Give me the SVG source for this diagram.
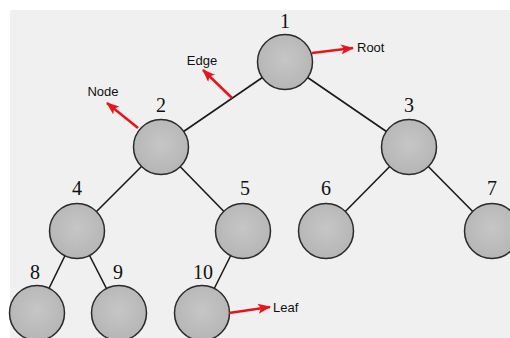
<svg xmlns="http://www.w3.org/2000/svg" width="510" height="338" viewBox="0 0 510 338">
<defs>
<radialGradient id="g" cx="50%" cy="45%" r="60%">
<stop offset="0" stop-color="#c6c6c6"/>
<stop offset="1" stop-color="#b4b4b4"/>
</radialGradient>
<marker id="ah" markerWidth="13" markerHeight="10" refX="12" refY="5" orient="auto" markerUnits="userSpaceOnUse">
<path d="M0,0 L13,5 L0,10 L3,5 Z" fill="#e8141a"/>
</marker>
<style>
.n{fill:url(#g);stroke:#2a2a2a;stroke-width:1.5}
.e{stroke:#1a1a1a;stroke-width:1.6;fill:none}
.a{stroke:#e8141a;stroke-width:2.5;fill:none;marker-end:url(#ah)}
.num{font-family:"Liberation Serif",serif;font-size:20px;fill:#111;text-anchor:middle}
.lbl{font-family:"Liberation Sans",sans-serif;font-size:13px;fill:#111}
</style>
</defs>
<rect x="0" y="0" width="510" height="338" fill="#ffffff"/>
<rect x="10" y="10" width="500" height="328" fill="#f0f0f0"/>
<g id="connectors">
<line class="e" x1="285" y1="62" x2="161" y2="147"/>
<line class="e" x1="285" y1="62" x2="409" y2="147"/>
<line class="e" x1="161" y1="147" x2="77" y2="231"/>
<line class="e" x1="161" y1="147" x2="243" y2="231"/>
<line class="e" x1="409" y1="147" x2="326" y2="231"/>
<line class="e" x1="409" y1="147" x2="492" y2="231"/>
<line class="e" x1="77" y1="231" x2="37" y2="313"/>
<line class="e" x1="77" y1="231" x2="119" y2="313"/>
<line class="e" x1="243" y1="231" x2="202" y2="313"/>
</g>
<g id="node1"><circle class="n" cx="285" cy="62" r="27.5"/><text class="num" x="285" y="28">1</text></g>
<g id="node2"><circle class="n" cx="161" cy="147" r="27.5"/><text class="num" x="161" y="112">2</text></g>
<g id="node3"><circle class="n" cx="409" cy="147" r="27.5"/><text class="num" x="409" y="112">3</text></g>
<g id="node4"><circle class="n" cx="77" cy="231" r="27.5"/><text class="num" x="77" y="195">4</text></g>
<g id="node5"><circle class="n" cx="243" cy="231" r="27.5"/><text class="num" x="245" y="195">5</text></g>
<g id="node6"><circle class="n" cx="326" cy="231" r="27.5"/><text class="num" x="326" y="195">6</text></g>
<g id="node7"><circle class="n" cx="492" cy="231" r="27.5"/><text class="num" x="492" y="195">7</text></g>
<g id="node8"><circle class="n" cx="37" cy="313" r="27.5"/><text class="num" x="35" y="279">8</text></g>
<g id="node9"><circle class="n" cx="119" cy="313" r="27.5"/><text class="num" x="118" y="279">9</text></g>
<g id="node10"><circle class="n" cx="202" cy="313" r="27.5"/><text class="num" x="203" y="279">10</text></g>
<g id="annotations">
<line class="a" x1="312" y1="53" x2="353" y2="48"/>
<text class="lbl" x="357" y="52">Root</text>
<line class="a" x1="232" y1="98" x2="203" y2="70"/>
<text class="lbl" x="202" y="65" text-anchor="middle">Edge</text>
<line class="a" x1="138" y1="128" x2="107" y2="103"/>
<text class="lbl" x="103" y="96" text-anchor="middle">Node</text>
<line class="a" x1="229" y1="313" x2="270" y2="307"/>
<text class="lbl" x="273" y="312">Leaf</text>
</g>
</svg>
